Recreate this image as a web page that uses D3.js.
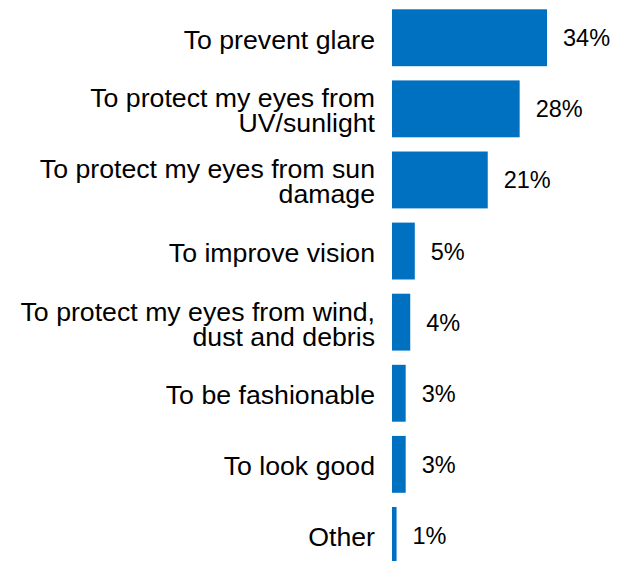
<!DOCTYPE html>
<html>
<head>
<meta charset="utf-8">
<script src="https://cdn.jsdelivr.net/npm/d3@7"></script>
<style>
  html, body { margin: 0; padding: 0; background: #fff; overflow: hidden; }
  svg { display: block; }
</style>
</head>
<body>
<svg id="chart" width="621" height="561"></svg>
<script>
// Reasons for wearing sunglasses (share of respondents, %)
const categories = [
  "To prevent glare",
  "To protect my eyes from UV/sunlight",
  "To protect my eyes from sun damage",
  "To improve vision",
  "To protect my eyes from wind, dust and debris",
  "To be fashionable",
  "To look good",
  "Other"
];
// Line breaks used for the category labels
const labelLines = [
  ["To prevent glare"],
  ["To protect my eyes from", "UV/sunlight"],
  ["To protect my eyes from sun", "damage"],
  ["To improve vision"],
  ["To protect my eyes from wind,", "dust and debris"],
  ["To be fashionable"],
  ["To look good"],
  ["Other"]
];
const values = [34, 28, 21, 5, 4, 3, 3, 1];

const svg = d3.select("#chart");
const barX = 392;
const labelX = 375;
const font = "Liberation Sans, Arial, Helvetica, sans-serif";

const x = d3.scaleLinear().domain([0, 34]).range([0, 155]);
const step = 71.1;
const y = d3.scaleBand()
  .domain(categories)
  .range([2.2, 2.2 + 8 * step])
  .paddingInner(0.2)
  .paddingOuter(0.1);

// Bars
svg.append("g")
  .selectAll("rect")
  .data(categories)
  .join("rect")
  .attr("x", barX)
  .attr("y", d => y(d))
  .attr("width", (d, i) => x(values[i]))
  .attr("height", y.bandwidth())
  .attr("fill", "#0070C0");

// Value labels
svg.append("g")
  .selectAll("text")
  .data(categories)
  .join("text")
  .attr("x", (d, i) => barX + x(values[i]) + 16)
  .attr("y", d => y(d) + y.bandwidth() / 2 + 8.5)
  .attr("font-family", font)
  .attr("font-size", 23.5)
  .attr("fill", "#000")
  .text((d, i) => values[i] + "%");

// Category labels, right-aligned and centred on each bar
const lineH = 25;
const capH = 19;
svg.append("g")
  .selectAll("text")
  .data(categories)
  .join("text")
  .attr("text-anchor", "end")
  .attr("font-family", font)
  .attr("font-size", 26.7)
  .attr("fill", "#000")
  .each(function(d, i) {
    const lines = labelLines[i];
    const c = y(d) + y.bandwidth() / 2 + 1.5;
    const blockH = capH + (lines.length - 1) * lineH;
    const first = c - blockH / 2 + capH;
    d3.select(this).selectAll("tspan")
      .data(lines)
      .join("tspan")
      .attr("x", labelX)
      .attr("y", (t, k) => first + k * lineH)
      .text(t => t);
  });
</script>
</body>
</html>
